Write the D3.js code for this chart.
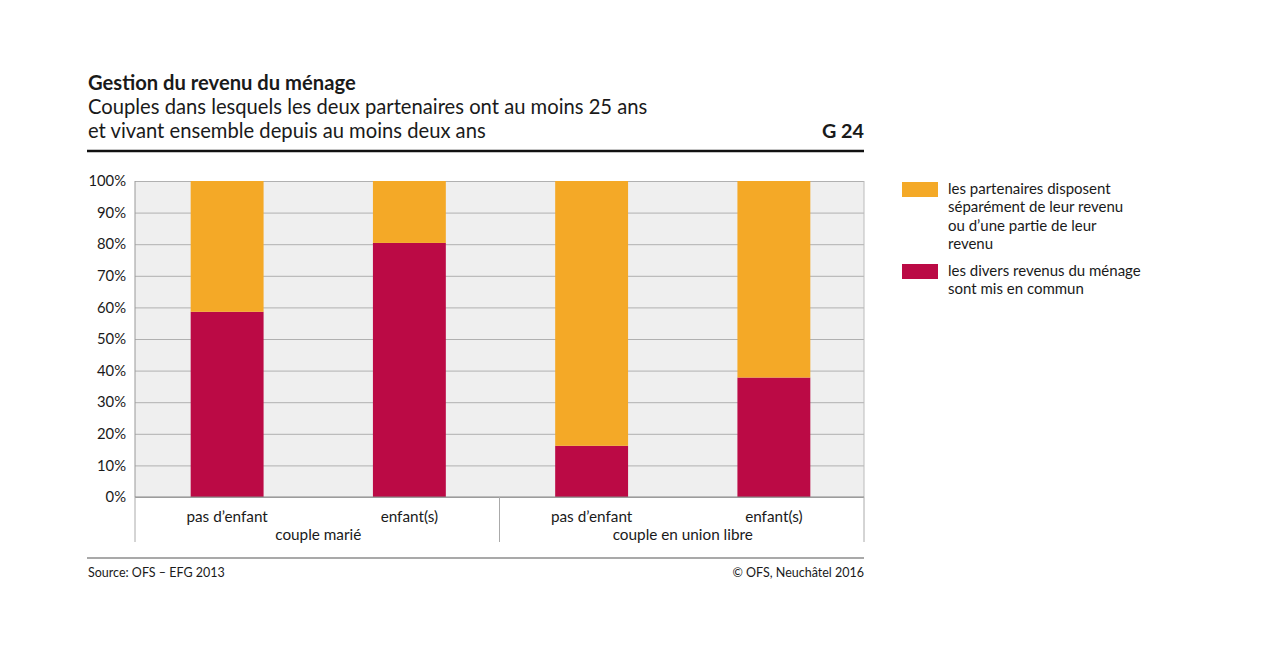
<!DOCTYPE html>
<html><head><meta charset="utf-8">
<script src="https://cdn.jsdelivr.net/npm/d3@7"></script>
<style>body{margin:0;background:#fff;} text{font-family:Lato,"Open Sans",sans-serif;fill:#1a1a1a;}</style>
</head><body><svg id="c" width="1280" height="669"></svg>
<script>
const categories = ["pas d’enfant","enfant(s)","pas d’enfant","enfant(s)"];
const groups = ["couple marié","couple en union libre"];
const groupOf = [0,0,1,1];
const commun = [58.6, 80.4, 16.2, 37.8];
const separe = [41.4, 19.6, 83.8, 62.2];
const yTicks = [0,10,20,30,40,50,60,70,80,90,100];
const colors = {separe:"#f4a927", commun:"#bb0a45"};

const svg = d3.select("#c");
const L=135,R=864,T=181,B=497;
const x = d3.scaleBand().domain(d3.range(categories.length)).range([L+1,R+1]).paddingInner(0.6).paddingOuter(0.3);
const y = d3.scaleLinear().domain([0,100]).range([B,T]);

// header
svg.append("text").attr("x",88).attr("y",90).attr("font-size",20.2).attr("font-weight","bold").text("Gestion du revenu du ménage");
svg.append("text").attr("x",88).attr("y",114).attr("font-size",20.2).text("Couples dans lesquels les deux partenaires ont au moins 25 ans");
svg.append("text").attr("x",88).attr("y",138).attr("font-size",20.2).text("et vivant ensemble depuis au moins deux ans");
svg.append("text").attr("x",864).attr("y",138).attr("font-size",19.8).attr("font-weight","bold").attr("text-anchor","end").text("G 24");
svg.append("line").attr("x1",87).attr("x2",864).attr("y1",151).attr("y2",151).attr("stroke","#111").attr("stroke-width",2.5);

// plot bg
svg.append("rect").attr("x",L).attr("y",T).attr("width",R-L).attr("height",B-T).attr("fill","#efefef");
const ga = svg.append("g").attr("transform",`translate(${L},0)`)
  .call(d3.axisLeft(y).tickValues(yTicks).tickFormat(d=>d+"%").tickSize(-(R-L)).tickPadding(9));
ga.select(".domain").remove();
ga.selectAll(".tick line").attr("stroke","#b0b0b0").attr("stroke-width",1);
ga.selectAll(".tick text").attr("font-size",14.8).attr("font-family","Lato,sans-serif").attr("fill","#1a1a1a");
svg.append("line").attr("x1",L).attr("x2",L).attr("y1",T).attr("y2",B).attr("stroke","#999");
svg.append("line").attr("x1",R).attr("x2",R).attr("y1",T).attr("y2",B).attr("stroke","#bbb");

// bars
const idx = d3.range(categories.length);
svg.append("g").selectAll("rect.c").data(idx).join("rect")
  .attr("x",i=>x(i)).attr("width",x.bandwidth())
  .attr("y",i=>y(commun[i])).attr("height",i=>y(0)-y(commun[i])).attr("fill",colors.commun);
svg.append("g").selectAll("rect.s").data(idx).join("rect")
  .attr("x",i=>x(i)).attr("width",x.bandwidth())
  .attr("y",i=>y(commun[i]+separe[i])).attr("height",i=>y(commun[i])-y(commun[i]+separe[i])).attr("fill",colors.separe);

// x axis
svg.append("line").attr("x1",L).attr("x2",R).attr("y1",B).attr("y2",B).attr("stroke","#888");
const sepX = [L, (L+R)/2, R];
sepX.forEach(sx=>svg.append("line").attr("x1",sx).attr("x2",sx).attr("y1",B).attr("y2",542).attr("stroke","#aaa"));
svg.append("g").selectAll("text").data(idx).join("text")
  .attr("x",i=>x(i)+x.bandwidth()/2).attr("y",522).attr("text-anchor","middle").attr("font-size",15.3)
  .text(i=>categories[i]);
groups.forEach((g,gi)=>{
  const m = idx.filter(i=>groupOf[i]===gi);
  const cx = (x(m[0]) + x(m[m.length-1])+x.bandwidth())/2;
  svg.append("text").attr("x",cx).attr("y",540).attr("text-anchor","middle").attr("font-size",15.3).text(g);
});

// footer
svg.append("line").attr("x1",87).attr("x2",864).attr("y1",558).attr("y2",558).attr("stroke","#555").attr("stroke-width",1.2);
svg.append("text").attr("x",88).attr("y",577).attr("font-size",12.5).text("Source: OFS – EFG 2013");
svg.append("text").attr("x",864).attr("y",577).attr("font-size",12.5).attr("text-anchor","end").text("© OFS, Neuchâtel 2016");

// legend
const leg = [
  {c:colors.separe, y:182, lines:["les partenaires disposent","séparément de leur revenu","ou d’une partie de leur","revenu"]},
  {c:colors.commun, y:264, lines:["les divers revenus du ménage","sont mis en commun"]}
];
leg.forEach(l=>{
  svg.append("rect").attr("x",902).attr("y",l.y).attr("width",36).attr("height",15).attr("fill",l.c);
  const t = svg.append("text").attr("x",948).attr("y",l.y+12).attr("font-size",15).attr("dy",0);
  l.lines.forEach((s,k)=>t.append("tspan").attr("x",948).attr("dy",k?18.3:0).text(s));
});
</script></body></html>
